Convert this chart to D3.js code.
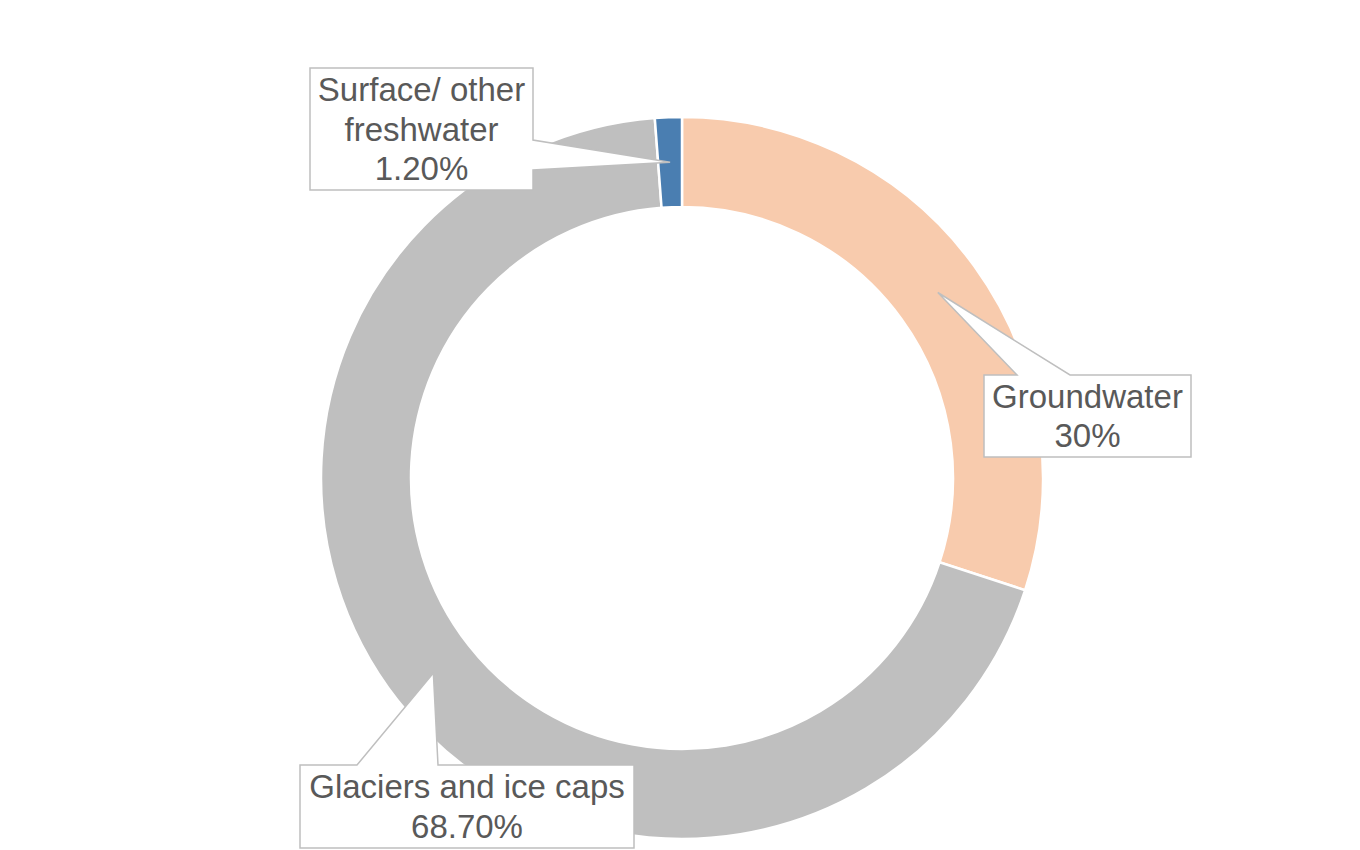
<!DOCTYPE html>
<html>
<head>
<meta charset="utf-8">
<script src="https://cdn.jsdelivr.net/npm/d3@7"></script>
<style>
html,body{margin:0;padding:0;background:#fff;}
svg{display:block;}
</style>
</head>
<body>
<svg id="chart" width="1360" height="850"></svg>
<script>
const categories = ["Groundwater", "Glaciers and ice caps", "Surface/ other freshwater"];
const values = [30, 68.7, 1.2];
const valueLabels = ["30%", "68.70%", "1.20%"];
const labelLines = [["Groundwater"], ["Glaciers and ice caps"], ["Surface/ other", "freshwater"]];
const colors = ["#F8CBAD", "#BFBFBF", "#4A7EB1"];

// callout boxes (layout): x0,y0,x1,y1, pointer side and base span
const callouts = [
  {x0: 984, y0: 375, x1: 1191, y1: 457, side: "top", b1: 1017, b2: 1070},
  {x0: 300, y0: 765, x1: 634, y1: 848, side: "top", b1: 357, b2: 438},
  {x0: 310, y0: 68, x1: 533, y1: 190, side: "right", b1: 140, b2: 170}
];

const svg = d3.select("#chart");
const cx = 682, cy = 478, R = 361, r0 = 271;
const g = svg.append("g").attr("transform", `translate(${cx},${cy})`);

const pie = d3.pie().sort(null).value(d => d)(values);
const arc = d3.arc().innerRadius(r0).outerRadius(R);

g.selectAll("path.slice").data(pie).enter().append("path")
  .attr("class", "slice")
  .attr("d", arc)
  .attr("fill", (d, i) => colors[i])
  .attr("stroke", "#fff")
  .attr("stroke-width", 2.5);

const fs = 33, lh = 39.5;
pie.forEach((d, i) => {
  const c = arc.centroid(d);
  const tip = [c[0] + cx, c[1] + cy];
  const b = callouts[i];
  let pts;
  if (b.side === "top") {
    pts = [[b.x0, b.y0], [b.b1, b.y0], tip, [b.b2, b.y0], [b.x1, b.y0], [b.x1, b.y1], [b.x0, b.y1]];
  } else {
    pts = [[b.x0, b.y0], [b.x1, b.y0], [b.x1, b.b1], tip, [b.x1, b.b2], [b.x1, b.y1], [b.x0, b.y1]];
  }
  svg.append("polygon")
    .attr("points", pts.map(p => p.join(",")).join(" "))
    .attr("fill", "#fff")
    .attr("stroke", "#BFBFBF")
    .attr("stroke-width", 1.5);
  const lines = labelLines[i].concat([valueLabels[i]]);
  const midY = (b.y0 + b.y1) / 2;
  const startY = midY - (lines.length - 1) * lh / 2;
  const t = svg.append("text")
    .attr("x", (b.x0 + b.x1) / 2)
    .attr("text-anchor", "middle")
    .attr("font-family", "'Liberation Sans', Arial, sans-serif")
    .attr("font-size", fs)
    .attr("fill", "#595959");
  lines.forEach((ln, k) => {
    t.append("tspan")
      .attr("x", (b.x0 + b.x1) / 2)
      .attr("y", startY + k * lh)
      .attr("dy", "0.35em")
      .text(ln);
  });
});
</script>
</body>
</html>
